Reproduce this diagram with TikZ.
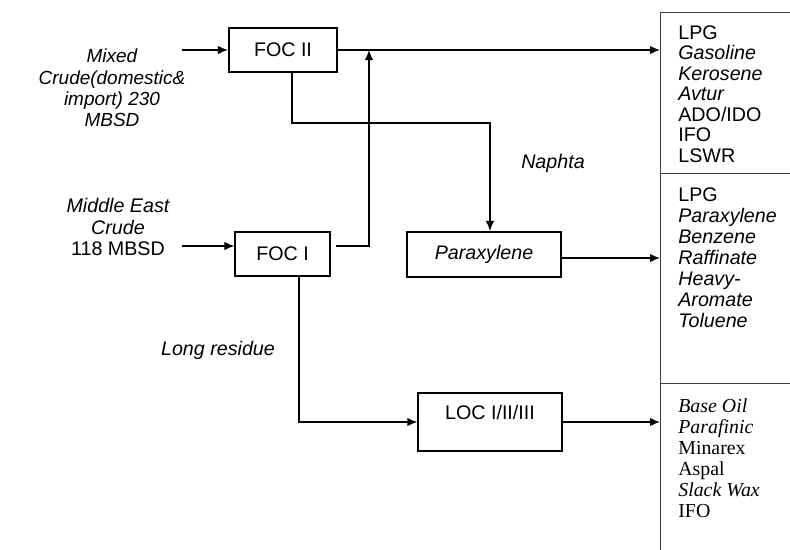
\documentclass[tikz,border=0pt]{standalone}
\usepackage{fontspec}
\setmainfont{Liberation Sans}
\newfontfamily\timesfont{Liberation Serif}
\usetikzlibrary{arrows.meta}

\begin{document}
\begin{tikzpicture}[
    x=0.02cm, y=-0.02cm,
    every node/.style={font=\fontsize{11.2}{12.2}\selectfont},
    unit/.style={rectangle, draw, line width=0.7pt, minimum width=1.9cm, minimum height=0.88cm, inner sep=2pt},
    bigunit/.style={unit, line width=1.2pt},
    feed/.style={align=center, font=\fontsize{10.8}{12.2}\selectfont\itshape},
    stream/.style={font=\fontsize{11.2}{12.2}\selectfont\itshape},
    prodbox/.style={rectangle, draw, line width=0.8pt, draw=black!75, anchor=north west, minimum width=3cm},
    prodlist/.style={anchor=north west, align=left, inner sep=0pt},
    arrow/.style={-{Latex[length=2mm,width=1.7mm]}, line width=0.75pt},
    line/.style={line width=0.7pt}
]
% -------------------------
% Frame
% -------------------------
    \path[use as bounding box] (0,0) rectangle (790,549);
    \clip (0,0) rectangle (790,549);

% -------------------------
% Feeds
% -------------------------
    \node[feed] (mixed) at (112,88) {Mixed\\Crude(domestic\&\\import) 230\\MBSD};
    \node[feed, font=\fontsize{11.2}{12.2}\selectfont\itshape] (meast) at (118,227) {Middle East\\Crude\\\upshape 118 MBSD};
    \coordinate (in2) at (182,50);
    \coordinate (in1) at (182,246);

% -------------------------
% Units
% -------------------------
    \node[bigunit, minimum width=2.16cm] (foc2) at (283,50) {FOC II};
    \node[unit] (foc1) at (282.5,254) {FOC I};
    \node[bigunit, minimum width=3.08cm, minimum height=0.9cm, font=\fontsize{11.2}{12.2}\selectfont\itshape] (para) at (484,254.5) {Paraxylene};
    \node[unit, minimum width=2.88cm, minimum height=1.16cm, text depth=11.4pt] (loc) at (490,422) {LOC I/II/III};

    \node[stream] (naphta) at (553,163) {Naphta};
    \node[stream] (resid) at (218,350) {Long residue};

% -------------------------
% Product column
% -------------------------
    \node[prodbox, minimum height=3.22cm] (prodA) at (660,12) {};
    \node[prodbox, minimum height=4.2cm] (prodB) at (660,173) {};
    \node[prodbox, minimum height=3.7cm] (prodC) at (660,383) {};

    \node[prodlist, font=\fontsize{11.2}{11.7}\selectfont] (listA) at (678,25) {LPG\\\itshape Gasoline\\\itshape Kerosene\\\itshape Avtur\\ADO/IDO\\IFO\\LSWR};
    \node[prodlist, font=\fontsize{11.2}{12}\selectfont] (listB) at (678,187) {LPG\\\itshape Paraxylene\\\itshape Benzene\\\itshape Raffinate\\\itshape Heavy-\\\itshape Aromate\\\itshape Toluene};
    \node[prodlist, font=\fontsize{11.3}{12}\selectfont\timesfont] (listC) at (678,398) {\itshape Base Oil\\\itshape Parafinic\\Minarex\\Aspal\\\itshape Slack Wax\\IFO};

% -------------------------
% Arrows & Routing
% -------------------------
    \coordinate (join) at (369,50);
    \coordinate (bend) at (490,123);

    \draw[arrow] (in2) -- (foc2.west);
    \draw[arrow] (in1) -- (in1 -| foc1.west);

    \draw[arrow] (foc2.east) -- (foc2.east -| prodA.west);
    \draw[arrow, shorten <=2.8pt] (foc1.east |- in1) -| (join);

    % Naphta to Paraxylene
    \draw[arrow] ([xshift=0.18cm]foc2.south) |- (bend) -- (bend |- para.north);
    \draw[arrow] ([yshift=-0.07cm]para.east) -- ([yshift=-0.07cm]para.east -| prodB.west);

    % Long residue to LOC
    \draw[arrow] ([xshift=0.33cm]foc1.south) |- (loc.west);
    \draw[arrow] (loc.east) -- (loc.east -| prodC.west);
\end{tikzpicture}
\end{document}
